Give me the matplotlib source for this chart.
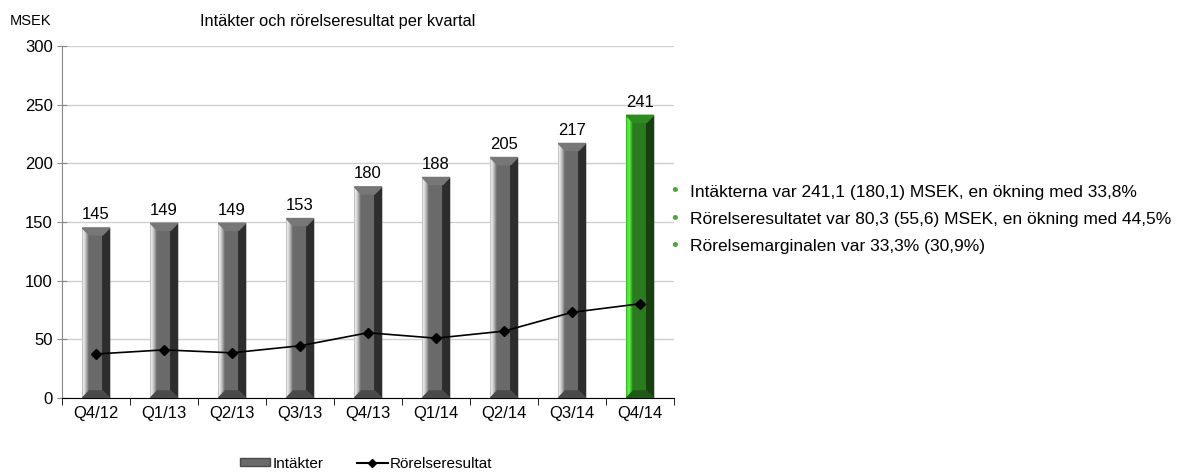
import numpy as np
import matplotlib.pyplot as plt
from matplotlib.patches import Polygon, Patch
from matplotlib.lines import Line2D
from matplotlib.colors import LinearSegmentedColormap

plt.rcParams['font.family'] = ['Liberation Sans', 'DejaVu Sans']

# data
quarters = ["Q4/12", "Q1/13", "Q2/13", "Q3/13", "Q4/13", "Q1/14", "Q2/14", "Q3/14", "Q4/14"]
revenue = [145, 149, 149, 153, 180, 188, 205, 217, 241]
op_result = [37.5, 41, 38.5, 44.5, 55.6, 51, 57, 73, 80.3]
bullets = [
    "Intäkterna var 241,1 (180,1) MSEK, en ökning med 33,8%",
    "Rörelseresultatet var 80,3 (55,6) MSEK, en ökning med 44,5%",
    "Rörelsemarginalen var 33,3% (30,9%)",
]

fig = plt.figure(figsize=(11.92, 4.73), dpi=100)
ax = fig.add_axes([0.052, 0.1586, 0.5134, 0.744])

x = np.arange(len(quarters))
w = 0.40
strip = 0.1
bev = 6

for i, v in enumerate(revenue):
    last = i == len(revenue) - 1
    if last:
        mid, edge, light, dark, top, bot = "#2b7a20", "#3ee02c", "#5cf545", "#173f10", "#2f8a22", "#1f5a16"
    else:
        mid, edge, light, dark, top, bot = "#6a6a6a", "#ffffff", "#c8c8c8", "#2d2d2d", "#777777", "#4a4a4a"
    l, r = x[i] - w / 2, x[i] + w / 2
    ax.bar(x[i], v, width=w, color=mid, zorder=2)
    # left highlight strip
    cm = LinearSegmentedColormap.from_list("g", [edge, light, mid])
    im = ax.imshow(np.linspace(0, 1, 30).reshape(1, -1), extent=(l, l + strip, 0, v),
                   aspect='auto', zorder=3, cmap=cm)
    im.set_clip_path(Polygon([(l, 0), (l + strip, bev), (l + strip, v - bev), (l, v)],
                             closed=True, transform=ax.transData))
    ax.add_patch(Polygon([(r - strip, bev), (r, 0), (r, v), (r - strip, v - bev)], closed=True, color=dark, zorder=3))
    ax.add_patch(Polygon([(l, v), (r, v), (r - strip, v - bev), (l + strip, v - bev)], closed=True, color=top, zorder=4))
    ax.add_patch(Polygon([(l, 0), (r, 0), (r - strip, bev), (l + strip, bev)], closed=True, color=bot, zorder=4))
    ax.annotate(str(v), (x[i], v), xytext=(0, 4), textcoords='offset points',
                ha='center', va='bottom', fontsize=12)

ax.plot(x, op_result, color='black', lw=1.2, marker='D', markersize=5, zorder=5)

ax.set_xlim(-0.5, len(quarters) - 0.5)
ax.set_ylim(0, 300)
ax.set_yticks(range(0, 301, 50))
ax.tick_params(axis='y', labelsize=12, length=7, direction='inout', color='#888888', pad=3)
ax.set_xticks(x)
ax.set_xticklabels(quarters, fontsize=12)
ax.tick_params(axis='x', length=0, pad=6)
ax.set_xticks(np.arange(-0.5, len(quarters)), minor=True)
ax.tick_params(axis='x', which='minor', length=5, color='black')
ax.grid(axis='y', color='#d0d0d0', lw=1, zorder=0)
ax.set_axisbelow(True)
for s in ['top', 'right']:
    ax.spines[s].set_visible(False)
ax.spines['left'].set_color('#888888')
ax.spines['bottom'].set_color('black')

fig.text(0.008, 0.955, "MSEK", fontsize=10.5, va='center')
fig.text(0.168, 0.955, "Intäkter och rörelseresultat per kvartal", fontsize=11.8, va='center')

for j, t in enumerate(bullets):
    yy = 1 - (192 + 27 * j) / 473
    fig.text(0.563, yy, "•", color='#4aa83c', fontsize=14, va='center')
    fig.text(0.579, yy, t, fontsize=12.5, va='center')

handles = [Patch(facecolor='#6a6a6a', edgecolor='#4a4a4a'),
           Line2D([0], [0], color='black', marker='D', markersize=4)]
fig.legend(handles, ["Intäkter", "Rörelseresultat"], loc='center', bbox_to_anchor=(0.307, 0.02),
           ncol=2, frameon=False, fontsize=11, handlelength=2.0, handleheight=0.45,
           handletextpad=0.15, columnspacing=2.2)

fig.savefig("out.png", dpi=100)
